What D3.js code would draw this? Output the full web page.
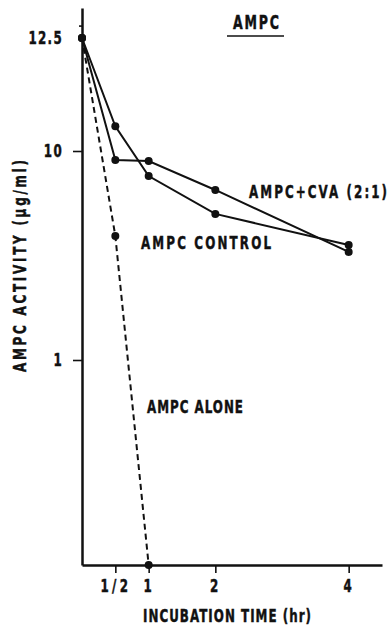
<!DOCTYPE html>
<html>
<head>
<meta charset="utf-8">
<script src="https://cdn.jsdelivr.net/npm/d3@7"></script>
<style>
  body { margin: 0; background: #fff; }
  svg text { font-family: "DejaVu Sans", "Liberation Sans", sans-serif; font-weight: bold; fill: #111; stroke: #111; stroke-width: 0.5px; }
</style>
</head>
<body>
<svg id="chart"></svg>
<script>
// data (incubation time in hr, activity in ug/ml)
const times = [0, 0.5, 1, 2, 4];
const cvaValues = [12.5, 9.06, 8.96, 6.51, 3.29];      // AMPC+CVA (2:1)
const controlValues = [12.5, 10.5, 7.59, 5.0, 3.55];   // AMPC CONTROL
const aloneTimes = [0, 0.5, 1];
const aloneValues = [12.5, 3.92, 0.1];                  // AMPC ALONE
const xTicks = [0.5, 1, 2, 4];
const xTickLabels = ["1/2", "1", "2", "4"];
const yTicks = [1, 10, 12.5];
const yTickLabels = ["1", "10", "12.5"];

const width = 391, height = 629;
const squeeze = 0.66; // the original lettering is a narrow condensed face

const svg = d3.select("#chart")
    .attr("width", width)
    .attr("height", height);

// time axis is linear, activity axis is log (hand-drawn, so piecewise at the top)
const x = d3.scaleLinear().domain([0, 4.5]).range([82, 382]);
const y = d3.scaleLog().domain([0.1, 1, 10, 12.5, 14]).range([565, 360, 151, 38, 8]);

// y axis
const yAxis = svg.append("g")
    .attr("transform", `translate(${x(0)},0)`)
    .call(d3.axisLeft(y)
        .tickValues(yTicks)
        .tickFormat((d, i) => yTickLabels[i])
        .tickSize(9)
        .tickSizeOuter(0)
        .tickPadding(11));
yAxis.selectAll("line").filter(d => d === 12.5).remove();

// small mark near the top of the y axis
svg.append("g")
    .attr("transform", `translate(${x(0)},0)`)
    .call(d3.axisLeft(y).tickValues([13.1]).tickFormat("").tickSize(3).tickSizeOuter(0))
    .select(".domain").remove();

// x axis
const xAxis = svg.append("g")
    .attr("transform", `translate(0,${y(0.1)})`)
    .call(d3.axisBottom(x)
        .tickValues(xTicks)
        .tickFormat((d, i) => xTickLabels[i])
        .tickSize(8)
        .tickSizeOuter(0)
        .tickPadding(6));

svg.selectAll(".domain").attr("stroke", "#111").attr("stroke-width", 2.5);
svg.selectAll(".tick line").attr("stroke", "#111").attr("stroke-width", 1.6);

// condensed tick labels: squeeze horizontally around their anchor
yAxis.selectAll(".tick text")
    .attr("font-size", 18)
    .attr("fill", "#111")
    .style("font-family", '"DejaVu Sans", sans-serif')
    .style("font-weight", "bold")
    .attr("letter-spacing", 2)
    .attr("x", null)
    .attr("transform", `translate(-19,0) scale(${squeeze},1)`);
xAxis.selectAll(".tick text")
    .attr("font-size", 18)
    .attr("fill", "#111")
    .style("font-family", '"DejaVu Sans", sans-serif')
    .style("font-weight", "bold")
    .attr("letter-spacing", 5)
    .attr("transform", `scale(${squeeze},1)`);

// series
const line = d3.line().x(d => x(d[0])).y(d => y(d[1]));

const series = [
    { pts: d3.zip(times, cvaValues), dash: null },
    { pts: d3.zip(times, controlValues), dash: null },
    { pts: d3.zip(aloneTimes, aloneValues), dash: "6,4" }
];

series.forEach(s => {
    svg.append("path")
        .attr("d", line(s.pts))
        .attr("fill", "none")
        .attr("stroke", "#111")
        .attr("stroke-width", 2)
        .attr("stroke-dasharray", s.dash);
    svg.selectAll(null)
        .data(s.pts)
        .enter()
        .append("circle")
        .attr("cx", d => x(d[0]))
        .attr("cy", d => y(d[1]))
        .attr("r", 4)
        .attr("fill", "#111");
});

// labels, squeezed to a condensed look and spaced to the original widths
function label(txt, lx, ly, size, len, rot) {
    return svg.append("text")
        .attr("transform", `translate(${lx},${ly})` + (rot ? " rotate(-90)" : "") + ` scale(${squeeze},1)`)
        .attr("font-size", size)
        .attr("textLength", len / squeeze)
        .attr("lengthAdjust", "spacing")
        .text(txt);
}

label("AMPC", 233, 29, 19, 46);
svg.append("line")
    .attr("x1", 227).attr("x2", 284)
    .attr("y1", 36).attr("y2", 36)
    .attr("stroke", "#111").attr("stroke-width", 1.5);

label("AMPC+CVA (2:1)", 249, 198, 18, 138);
label("AMPC CONTROL", 141, 249, 18, 130);
label("AMPC ALONE", 147, 413, 18, 96);

// axis titles
label("INCUBATION TIME (hr)", 143, 622, 18, 168);
label("AMPC ACTIVITY (\u00b5g/ml)", 26, 372, 18, 212, true);
</script>
</body>
</html>
